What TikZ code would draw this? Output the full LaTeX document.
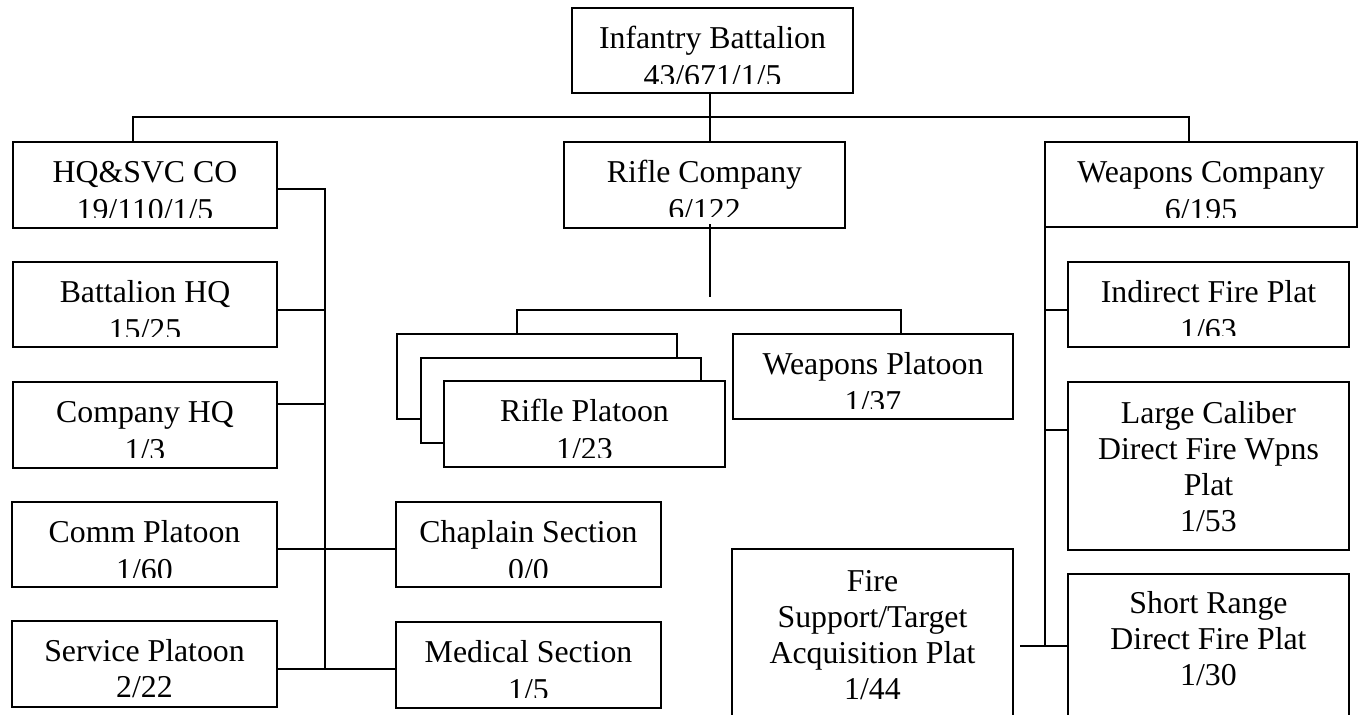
\documentclass[tikz,border=0pt]{standalone}
\usepackage{fontspec}
\setmainfont{Liberation Serif}
\newcommand\obox[5]{\node[box, anchor=north west, minimum width={#4-#2}, minimum height={#5-#3}] (#1) at (#2,#3) {};}
\newcommand\otxt[4]{\node[lbl] (#1) at (#2,#3) {#4};}
\begin{document}
\begin{tikzpicture}[x=1pt,y=-1pt,
  box/.style={draw, line width=2pt, fill=white, inner sep=0pt, outer sep=0pt, rectangle},
  lbl/.style={font=\fontsize{31.8}{36}\selectfont, inner sep=0pt, anchor=base},
  conn/.style={line width=2pt}]
\useasboundingbox (0,0) rectangle (1361,715);
\clip (0,0) rectangle (1361,715);
\fill[white] (0,0) rectangle (1361,715);

% ---- boxes ----
\obox{ib}{572}{8}{853}{93}
\obox{hq}{13}{142}{277}{228}
\obox{bhq}{13}{262}{277}{347}
\obox{chq}{13}{382}{277}{468}
\obox{comm}{12}{502}{277}{587}
\obox{svc}{12}{621}{277}{707}
\obox{chap}{396}{502}{661}{587}
\obox{med}{396}{622}{661}{708}
\obox{rc}{564}{142}{845}{228}
\obox{rpc}{397}{334}{677}{419}
\obox{rpb}{421}{358}{701}{443}
\obox{rpa}{444}{381}{725}{467}
\obox{wp}{733}{334}{1013}{419}
\obox{wc}{1045}{142}{1357}{227}
\obox{ifp}{1068}{262}{1349}{347}
\obox{lc}{1068}{382}{1349}{550}
\obox{fs}{732}{549}{1013}{760}
\obox{sr}{1068}{574}{1349}{760}

% ---- texts (second lines clipped as in the reference) ----
\begin{scope}\clip (572,8) rectangle (853,83);
\otxt{ib1}{712.5}{48}{Infantry Battalion}\otxt{ib2}{712.5}{86}{43/671/1/5}\end{scope}
\begin{scope}\clip (13,142) rectangle (277,217);
\otxt{hq1}{145}{182}{HQ\&SVC CO}\otxt{hq2}{145}{220}{19/110/1/5}\end{scope}
\begin{scope}\clip (13,262) rectangle (277,336);
\otxt{bhq1}{145}{302}{Battalion HQ}\otxt{bhq2}{145}{340}{15/25}\end{scope}
\begin{scope}\clip (13,382) rectangle (277,457);
\otxt{chq1}{145}{422}{Company HQ}\otxt{chq2}{145}{460}{1/3}\end{scope}
\begin{scope}\clip (12,502) rectangle (277,577);
\otxt{comm1}{144.5}{542}{Comm Platoon}\otxt{comm2}{144.5}{580}{1/60}\end{scope}
\otxt{svc1}{144.5}{661}{Service Platoon}\otxt{svc2}{144.5}{697}{2/22}
\begin{scope}\clip (396,502) rectangle (661,577);
\otxt{chap1}{528.5}{542}{Chaplain Section}\otxt{chap2}{528.5}{580}{0/0}\end{scope}
\begin{scope}\clip (396,622) rectangle (661,697);
\otxt{med1}{528.5}{662}{Medical Section}\otxt{med2}{528.5}{700}{1/5}\end{scope}
\begin{scope}\clip (564,142) rectangle (845,216);
\otxt{rc1}{704.5}{182}{Rifle Company}\otxt{rc2}{704.5}{220}{6/122}\end{scope}
\begin{scope}\clip (444,381) rectangle (725,457);
\otxt{rp1}{584.5}{421}{Rifle Platoon}\otxt{rp2}{584.5}{459}{1/23}\end{scope}
\begin{scope}\clip (733,334) rectangle (1013,408);
\otxt{wp1}{873}{374}{Weapons Platoon}\otxt{wp2}{873}{412}{1/37}\end{scope}
\begin{scope}\clip (1045,142) rectangle (1357,217);
\otxt{wc1}{1201}{182}{Weapons Company}\otxt{wc2}{1201}{220}{6/195}\end{scope}
\begin{scope}\clip (1068,262) rectangle (1349,335);
\otxt{ifp1}{1208.5}{302}{Indirect Fire Plat}\otxt{ifp2}{1208.5}{340}{1/63}\end{scope}
\otxt{lc1}{1208.5}{423}{Large Caliber}
\otxt{lc2}{1208.5}{459}{Direct Fire Wpns}
\otxt{lc3}{1208.5}{495}{Plat}
\otxt{lc4}{1208.5}{531}{1/53}
\otxt{fs1}{872.5}{591}{Fire}
\otxt{fs2}{872.5}{627}{Support/Target}
\otxt{fs3}{872.5}{663}{Acquisition Plat}
\otxt{fs4}{872.5}{699}{1/44}
\otxt{sr1}{1208.5}{613}{Short Range}
\otxt{sr2}{1208.5}{649}{Direct Fire Plat}
\otxt{sr3}{1208.5}{685}{1/30}

% ---- connectors ----
\coordinate (mx) at (709.5,0);
\coordinate (hx) at (325,0);
\coordinate (wx) at (1045,0);
\coordinate (barL) at (133,117);
\coordinate (barR) at (1189,117);
\coordinate (rbarL) at (517,310);
\coordinate (rbarR) at (901,310);
\coordinate (rcend) at (709.5,297);
\coordinate (hqj) at (325,669);
\coordinate (fsj) at (1020,646);

\draw[conn] (ib.south -| mx) -- (rc.north -| mx);
\draw[conn] (hq.north -| barL) -- (barL) -- (barR) -- (wc.north -| barR);

\draw[conn] (hq.east |- 0,189) -| (hqj);
\draw[conn] (bhq.east |- 0,310) -- (hx |- 0,310);
\draw[conn] (chq.east |- 0,404) -- (hx |- 0,404);
\draw[conn] (comm.east |- 0,549) -- (chap.west |- 0,549);
\draw[conn] (svc.east |- 0,669) -- (med.west |- 0,669);

\draw[conn] ([yshift=4pt]rc.south -| mx) -- (rcend);
\draw[conn] (rpc.north -| rbarL) -- (rbarL) -- (rbarR) -- (wp.north -| rbarR);

\draw[conn] (wc.south west) -- (wx |- fsj);
\draw[conn] (wx |- 0,310) -- (ifp.west |- 0,310);
\draw[conn] (wx |- 0,430) -- (lc.west |- 0,430);
\draw[conn] (fsj) -- (sr.west |- fsj);
\end{tikzpicture}
\end{document}
